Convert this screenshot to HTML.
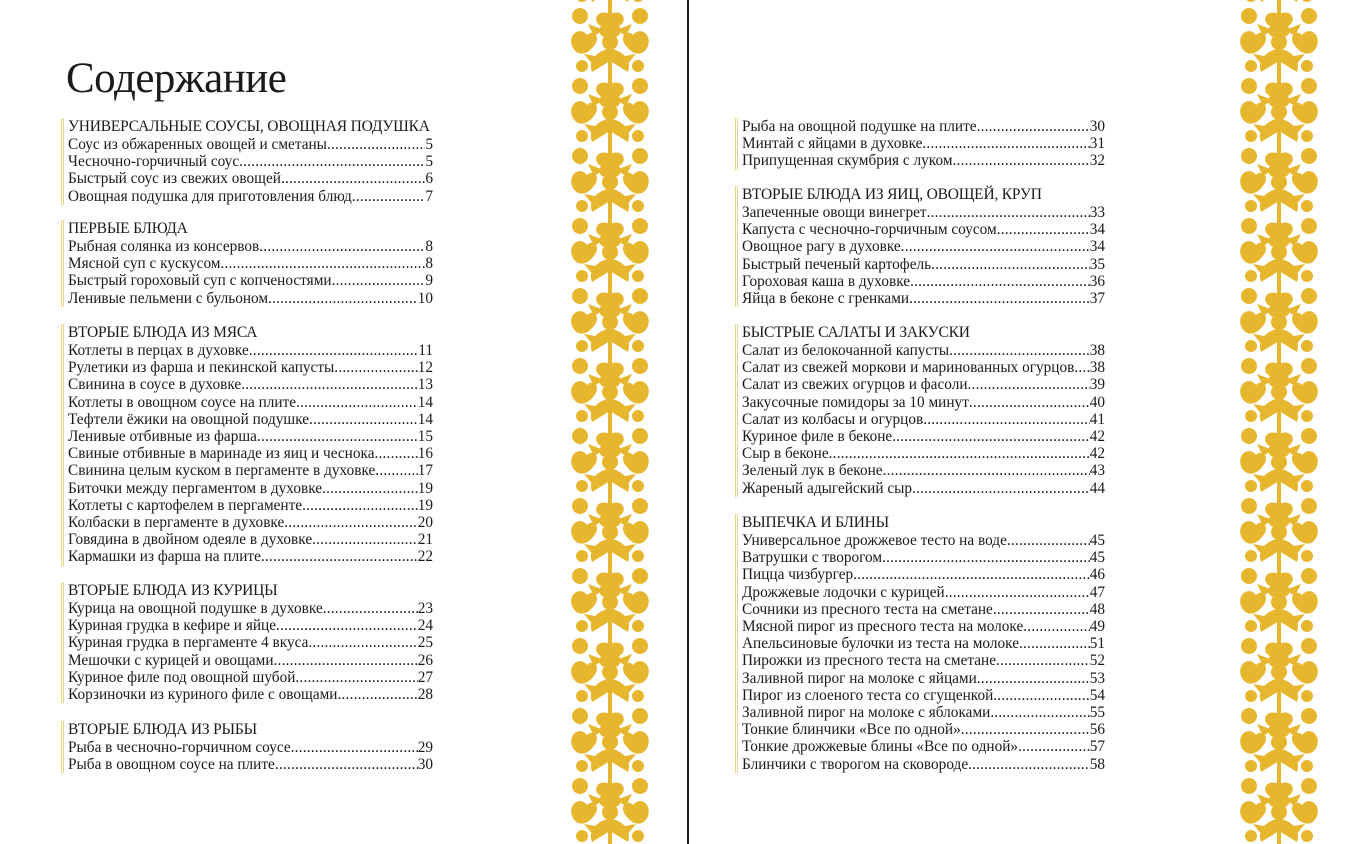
<!DOCTYPE html>
<html><head><meta charset="utf-8">
<style>
*{margin:0;padding:0;box-sizing:border-box}
body{width:1372px;height:844px;background:#fff;position:relative;overflow:hidden;font-family:"Liberation Serif","DejaVu Serif",serif;color:#1a1a1a}
h1{position:absolute;left:66px;top:54px;font-weight:normal;font-size:43px;letter-spacing:-0.5px}
.sec{position:absolute;border-left:3px double #e9d58a;padding-left:4px;font-size:15.3px;line-height:17.2px}
.h{font-size:15.5px;line-height:18px;white-space:nowrap;letter-spacing:-0.2px}
.r{display:flex;white-space:nowrap;overflow:hidden}
.r .d{flex:1;overflow:hidden;letter-spacing:0.2px}
.r .d::after{content:"................................................................................................................................................................"}
.orn{position:absolute;top:0;width:84px;height:844px}
.div{position:absolute;left:687px;top:0;width:1.5px;height:844px;background:#222}
</style></head><body>
<svg width="0" height="0" style="position:absolute">
<defs>
<pattern id="p" x="0" y="8" width="84" height="70" patternUnits="userSpaceOnUse">
<g fill="#e6b62e">
<rect x="40" y="0" width="4" height="70"/>
<path d="M42 6 C28 0 24 14 33 18 C28 26 36 32 42 27 C48 32 56 26 51 18 C60 14 56 0 42 6Z"/>
<circle cx="42" cy="34" r="8"/>
<path d="M42 40 C28 44 20 52 24 64 L42 53 L60 64 C64 52 56 44 42 40Z"/>
<path d="M4 38 C0 26 12 18 19 27 C26 20 34 30 25 39 C18 48 8 48 4 38Z"/>
<path d="M80 38 C84 26 72 18 65 27 C58 20 50 30 59 39 C66 48 76 48 80 38Z"/>
<circle cx="12" cy="8" r="8"/><circle cx="72" cy="8" r="8"/>
<circle cx="14" cy="58" r="6"/><circle cx="70" cy="58" r="6"/>
<path d="M20 16 L36 22 L26 28Z M64 16 L48 22 L58 28Z"/>
<path d="M16 46 L38 50 L26 58Z M68 46 L46 50 L58 58Z"/>
</g>
</pattern></defs></svg>
<svg class="orn" style="left:568px"><rect width="84" height="844" fill="url(#p)"/></svg>
<svg class="orn" style="left:1237px"><rect width="84" height="844" fill="url(#p)"/></svg>
<div class="div"></div>

<h1>Содержание</h1>

<div class="sec" style="left:61px;top:118px;width:372px">
<div class="h">УНИВЕРСАЛЬНЫЕ СОУСЫ, ОВОЩНАЯ ПОДУШКА</div>
<div class="r"><span>Соус из обжаренных овощей и сметаны</span><span class="d"></span><span>5</span></div>
<div class="r"><span>Чесночно-горчичный соус</span><span class="d"></span><span>5</span></div>
<div class="r"><span>Быстрый соус из свежих овощей</span><span class="d"></span><span>6</span></div>
<div class="r"><span>Овощная подушка для приготовления блюд</span><span class="d"></span><span>7</span></div>
</div>

<div class="sec" style="left:61px;top:220px;width:372px">
<div class="h">ПЕРВЫЕ БЛЮДА</div>
<div class="r"><span>Рыбная солянка из консервов</span><span class="d"></span><span>8</span></div>
<div class="r"><span>Мясной суп с кускусом</span><span class="d"></span><span>8</span></div>
<div class="r"><span>Быстрый гороховый суп с копченостями</span><span class="d"></span><span>9</span></div>
<div class="r"><span>Ленивые пельмени с бульоном</span><span class="d"></span><span>10</span></div>
</div>

<div class="sec" style="left:61px;top:324px;width:372px">
<div class="h">ВТОРЫЕ БЛЮДА ИЗ МЯСА</div>
<div class="r"><span>Котлеты в перцах в духовке</span><span class="d"></span><span>11</span></div>
<div class="r"><span>Рулетики из фарша и пекинской капусты</span><span class="d"></span><span>12</span></div>
<div class="r"><span>Свинина в соусе в духовке</span><span class="d"></span><span>13</span></div>
<div class="r"><span>Котлеты в овощном соусе на плите</span><span class="d"></span><span>14</span></div>
<div class="r"><span>Тефтели ёжики на овощной подушке</span><span class="d"></span><span>14</span></div>
<div class="r"><span>Ленивые отбивные из фарша</span><span class="d"></span><span>15</span></div>
<div class="r"><span>Свиные отбивные в маринаде из яиц и чеснока</span><span class="d"></span><span>16</span></div>
<div class="r"><span>Свинина целым куском в пергаменте в духовке</span><span class="d"></span><span>17</span></div>
<div class="r"><span>Биточки между пергаментом в духовке</span><span class="d"></span><span>19</span></div>
<div class="r"><span>Котлеты с картофелем в пергаменте</span><span class="d"></span><span>19</span></div>
<div class="r"><span>Колбаски в пергаменте в духовке</span><span class="d"></span><span>20</span></div>
<div class="r"><span>Говядина в двойном одеяле в духовке</span><span class="d"></span><span>21</span></div>
<div class="r"><span>Кармашки из фарша на плите</span><span class="d"></span><span>22</span></div>
</div>

<div class="sec" style="left:61px;top:582px;width:372px">
<div class="h">ВТОРЫЕ БЛЮДА ИЗ КУРИЦЫ</div>
<div class="r"><span>Курица на овощной подушке в духовке</span><span class="d"></span><span>23</span></div>
<div class="r"><span>Куриная грудка в кефире и яйце</span><span class="d"></span><span>24</span></div>
<div class="r"><span>Куриная грудка в пергаменте 4 вкуса</span><span class="d"></span><span>25</span></div>
<div class="r"><span>Мешочки с курицей и овощами</span><span class="d"></span><span>26</span></div>
<div class="r"><span>Куриное филе под овощной шубой</span><span class="d"></span><span>27</span></div>
<div class="r"><span>Корзиночки из куриного филе с овощами</span><span class="d"></span><span>28</span></div>
</div>

<div class="sec" style="left:61px;top:721px;width:372px">
<div class="h">ВТОРЫЕ БЛЮДА ИЗ РЫБЫ</div>
<div class="r"><span>Рыба в чесночно-горчичном соусе</span><span class="d"></span><span>29</span></div>
<div class="r"><span>Рыба в овощном соусе на плите</span><span class="d"></span><span>30</span></div>
</div>

<div class="sec" style="left:735px;top:118px;width:370px">
<div class="r"><span>Рыба на овощной подушке на плите</span><span class="d"></span><span>30</span></div>
<div class="r"><span>Минтай с яйцами в духовке</span><span class="d"></span><span>31</span></div>
<div class="r"><span>Припущенная скумбрия с луком</span><span class="d"></span><span>32</span></div>
</div>

<div class="sec" style="left:735px;top:186px;width:370px">
<div class="h">ВТОРЫЕ БЛЮДА ИЗ ЯИЦ, ОВОЩЕЙ, КРУП</div>
<div class="r"><span>Запеченные овощи винегрет</span><span class="d"></span><span>33</span></div>
<div class="r"><span>Капуста с чесночно-горчичным соусом</span><span class="d"></span><span>34</span></div>
<div class="r"><span>Овощное рагу в духовке</span><span class="d"></span><span>34</span></div>
<div class="r"><span>Быстрый печеный картофель</span><span class="d"></span><span>35</span></div>
<div class="r"><span>Гороховая каша в духовке</span><span class="d"></span><span>36</span></div>
<div class="r"><span>Яйца в беконе с гренками</span><span class="d"></span><span>37</span></div>
</div>

<div class="sec" style="left:735px;top:324px;width:370px">
<div class="h">БЫСТРЫЕ САЛАТЫ И ЗАКУСКИ</div>
<div class="r"><span>Салат из белокочанной капусты</span><span class="d"></span><span>38</span></div>
<div class="r"><span>Салат из свежей моркови и маринованных огурцов</span><span class="d"></span><span>38</span></div>
<div class="r"><span>Салат из свежих огурцов и фасоли</span><span class="d"></span><span>39</span></div>
<div class="r"><span>Закусочные помидоры за 10 минут</span><span class="d"></span><span>40</span></div>
<div class="r"><span>Салат из колбасы и огурцов</span><span class="d"></span><span>41</span></div>
<div class="r"><span>Куриное филе в беконе</span><span class="d"></span><span>42</span></div>
<div class="r"><span>Сыр в беконе</span><span class="d"></span><span>42</span></div>
<div class="r"><span>Зеленый лук в беконе</span><span class="d"></span><span>43</span></div>
<div class="r"><span>Жареный адыгейский сыр</span><span class="d"></span><span>44</span></div>
</div>

<div class="sec" style="left:735px;top:514px;width:370px">
<div class="h">ВЫПЕЧКА И БЛИНЫ</div>
<div class="r"><span>Универсальное дрожжевое тесто на воде</span><span class="d"></span><span>45</span></div>
<div class="r"><span>Ватрушки с творогом</span><span class="d"></span><span>45</span></div>
<div class="r"><span>Пицца чизбургер</span><span class="d"></span><span>46</span></div>
<div class="r"><span>Дрожжевые лодочки с курицей</span><span class="d"></span><span>47</span></div>
<div class="r"><span>Сочники из пресного теста на сметане</span><span class="d"></span><span>48</span></div>
<div class="r"><span>Мясной пирог из пресного теста на молоке</span><span class="d"></span><span>49</span></div>
<div class="r"><span>Апельсиновые булочки из теста на молоке</span><span class="d"></span><span>51</span></div>
<div class="r"><span>Пирожки из пресного теста на сметане</span><span class="d"></span><span>52</span></div>
<div class="r"><span>Заливной пирог на молоке с яйцами</span><span class="d"></span><span>53</span></div>
<div class="r"><span>Пирог из слоеного теста со сгущенкой</span><span class="d"></span><span>54</span></div>
<div class="r"><span>Заливной пирог на молоке с яблоками</span><span class="d"></span><span>55</span></div>
<div class="r"><span>Тонкие блинчики «Все по одной»</span><span class="d"></span><span>56</span></div>
<div class="r"><span>Тонкие дрожжевые блины «Все по одной»</span><span class="d"></span><span>57</span></div>
<div class="r"><span>Блинчики с творогом на сковороде</span><span class="d"></span><span>58</span></div>
</div>
</body></html>
